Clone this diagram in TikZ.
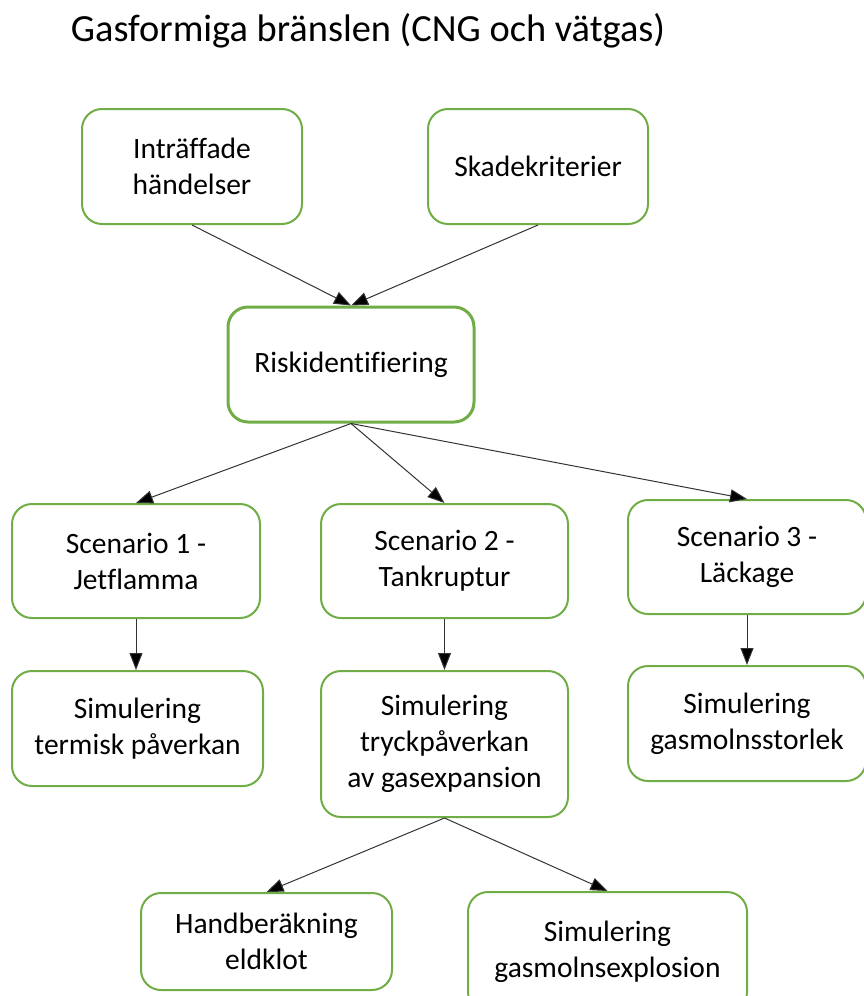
\documentclass[tikz,border=0pt]{standalone}
\usepackage{fontspec}
\setmainfont[Ligatures=NoCommon]{Carlito}
\usetikzlibrary{arrows.meta}
\definecolor{boxgreen}{HTML}{70AD47}
\begin{document}
\begin{tikzpicture}[x=1pt,y=-1pt,
  box/.style={draw=boxgreen, line width=2pt, rounded corners=20pt, fill=white, align=center,
    font=\fontsize{29.5}{36}\selectfont, inner sep=0pt},
  conn/.style={draw=black!80, line width=1pt, -{Triangle[length=17pt,width=13pt,fill=black]}}]
\useasboundingbox (0,0) rectangle (864,996);
\clip (0,0) rectangle (864,996);
\node[font=\fontsize{38.4}{46}\selectfont] (title) at (368,31) {Gasformiga bränslen (CNG och vätgas)};
\node[box, minimum width=220pt, minimum height=115pt] (intr) at (192,166.5) {Inträffade\\händelser};
\node[box, minimum width=220pt, minimum height=115pt] (skada) at (538,166.5) {Skadekriterier};
\node[box, line width=3pt, minimum width=246pt, minimum height=115pt] (risk) at (351,364.5) {Riskidentifiering};
\node[box, minimum width=248pt, minimum height=114pt] (sc1) at (136,561) {Scenario 1 -\\Jetflamma};
\node[box, minimum width=247pt, minimum height=114pt] (sc2) at (444.5,561) {Scenario 2 -\\Tankruptur};
\node[box, minimum width=238pt, minimum height=114pt] (sc3) at (747,557) {Scenario 3 -\\Läckage};
\node[box, minimum width=251pt, minimum height=115pt] (sim1) at (137.5,728.5) {Simulering\\termisk påverkan};
\node[box, minimum width=247pt, minimum height=146pt] (sim2) at (444.5,744) {Simulering\\tryckpåverkan\\av gasexpansion};
\node[box, minimum width=238pt, minimum height=115pt] (sim3) at (747,723.5) {Simulering\\gasmolnsstorlek};
\node[box, minimum width=251pt, minimum height=97pt] (hand) at (266.5,941.5) {Handberäkning\\eldklot};
\node[box, minimum width=279pt, minimum height=120pt] (expl) at (607.5,952) {Simulering\\gasmolnsexplosion};
\draw[conn] (intr.south) -- (risk.north);
\draw[conn] (skada.south) -- (risk.north);
\draw[conn] (risk.south) -- (sc1.north);
\draw[conn] (risk.south) -- (sc2.north);
\draw[conn] (risk.south) -- (sc3.north);
\draw[conn] (sc1.south) -- (sim1.north -| sc1.south);
\draw[conn] (sc2.south) -- (sim2.north);
\draw[conn] (sc3.south) -- (sim3.north);
\draw[conn] (sim2.south) -- (hand.north);
\draw[conn] (sim2.south) -- (expl.north);
\end{tikzpicture}
\end{document}
